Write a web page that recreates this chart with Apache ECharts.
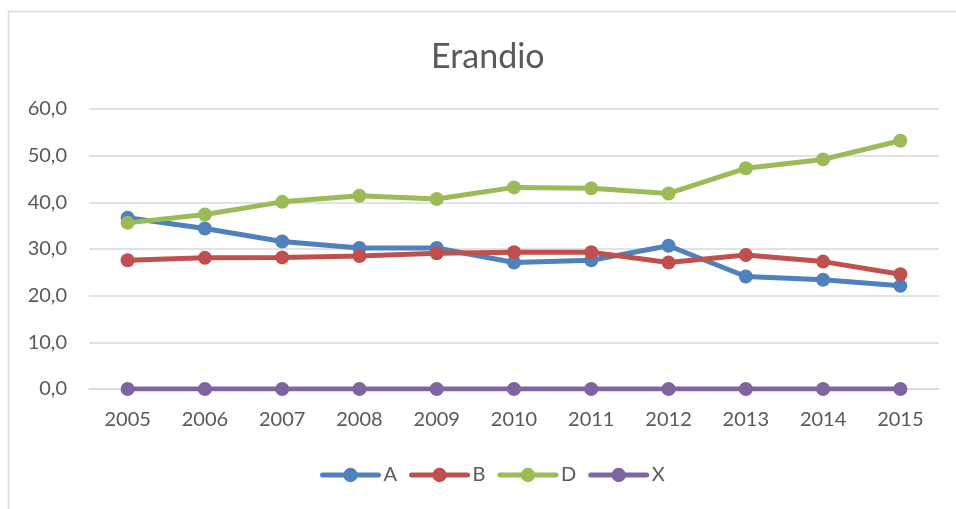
<!DOCTYPE html>
<html>
<head>
<meta charset="utf-8">
<script src="https://cdn.jsdelivr.net/npm/echarts@6/dist/echarts.min.js"></script>
<style>
  html, body { margin: 0; padding: 0; background: #fff; }
  #main { width: 956px; height: 509px; }
</style>
</head>
<body>
<div id="main"></div>
<script>
// datos
const years = ['2005', '2006', '2007', '2008', '2009', '2010', '2011', '2012', '2013', '2014', '2015'];
const serieA = [36.7, 34.4, 31.6, 30.2, 30.2, 27.1, 27.6, 30.7, 24.1, 23.4, 22.1];
const serieB = [27.6, 28.1, 28.2, 28.5, 29.1, 29.3, 29.3, 27.1, 28.7, 27.3, 24.6];
const serieD = [35.6, 37.4, 40.1, 41.4, 40.7, 43.2, 43.0, 41.9, 47.3, 49.2, 53.2];
const serieX = [0, 0, 0, 0, 0, 0, 0, 0, 0, 0, 0];
const yTicks = [0, 10, 20, 30, 40, 50, 60];

const chart = echarts.init(document.getElementById('main'), null, { renderer: 'canvas' });

const fontFam = 'Lato, "Open Sans", sans-serif';
const txtColor = '#595959';

function lineSerie(name, data, color) {
  return {
    name: name,
    type: 'line',
    data: data,
    symbol: 'circle',
    symbolSize: 14,
    lineStyle: { width: 5, color: color },
    itemStyle: { color: color },
    emphasis: { disabled: true },
    animation: false
  };
}

const option = {
  backgroundColor: '#fff',
  graphic: [{
    type: 'rect',
    shape: { x: 8.5, y: 11.5, width: 1000, height: 600 },
    style: { fill: 'none', stroke: '#d9d9d9', lineWidth: 1.5 },
    silent: true,
    z: -1
  }],
  title: {
    text: 'Erandio',
    left: 426,
    top: 35,
    textStyle: { fontFamily: fontFam, fontSize: 34, fontWeight: 'normal', color: txtColor }
  },
  legend: {
    bottom: 19,
    left: 315,
    itemWidth: 56,
    itemHeight: 18,
    itemGap: 12,
    lineStyle: { width: 5, cap: 'round' },
    textStyle: { fontFamily: fontFam, fontSize: 20, color: txtColor },
    data: ['A', 'B', 'D', 'X']
  },
  grid: { left: 89, right: 17, top: 109, bottom: 120 },
  xAxis: {
    type: 'category',
    data: years,
    boundaryGap: true,
    axisLine: { show: true, lineStyle: { color: '#d9d9d9', width: 1.5 } },
    axisTick: { show: false },
    axisLabel: { margin: 21, fontFamily: fontFam, fontSize: 20, color: txtColor }
  },
  yAxis: {
    type: 'value',
    min: yTicks[0],
    max: yTicks[yTicks.length - 1],
    interval: 10,
    axisLine: { show: false },
    axisTick: { show: false },
    splitLine: { lineStyle: { color: '#d9d9d9', width: 1.5 } },
    axisLabel: {
      margin: 22,
      fontFamily: fontFam,
      fontSize: 20,
      color: txtColor,
      formatter: v => v.toFixed(1).replace('.', ',')
    }
  },
  series: [
    lineSerie('A', serieA, '#4f81bd'),
    lineSerie('B', serieB, '#c0504d'),
    lineSerie('D', serieD, '#9bbb59'),
    lineSerie('X', serieX, '#8064a2')
  ]
};

chart.setOption(option);
</script>
</body>
</html>
